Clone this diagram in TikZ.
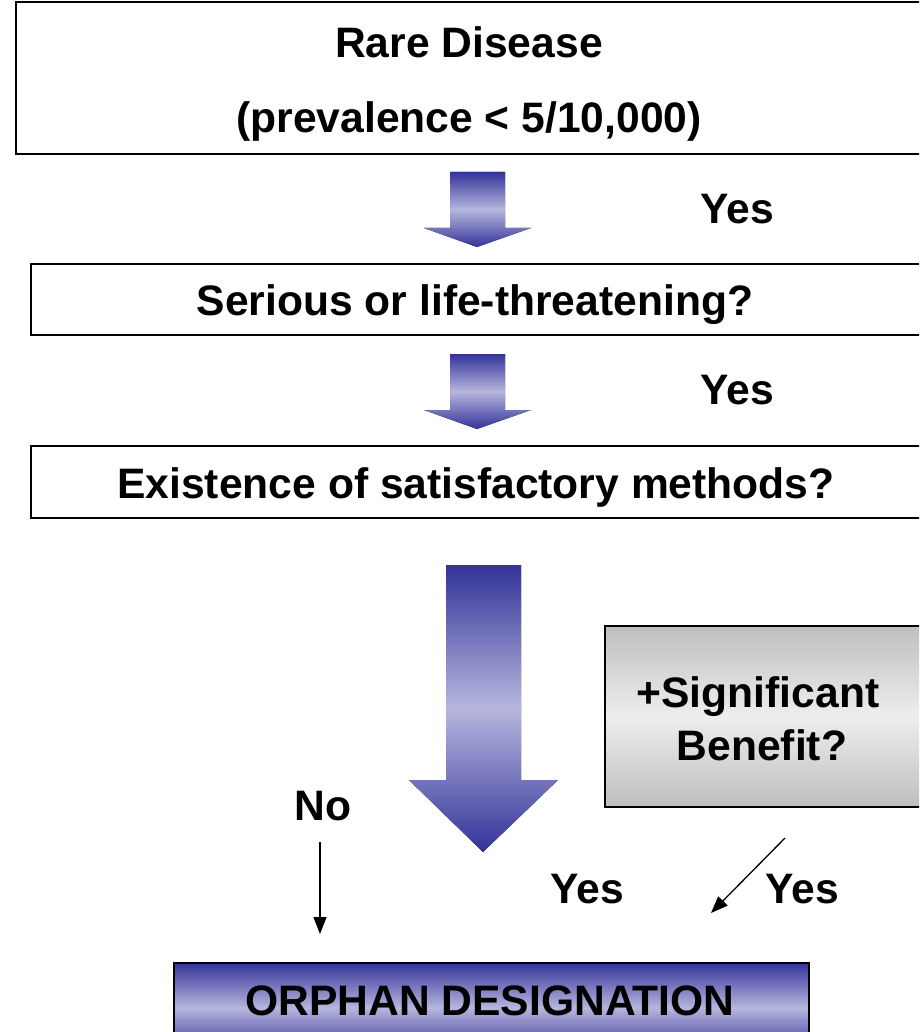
\documentclass[tikz,border=0pt]{standalone}
\usepackage{fontspec}
\setmainfont{Liberation Sans}
\usetikzlibrary{arrows.meta}
\definecolor{navy}{RGB}{51,51,153}
\definecolor{lav}{RGB}{182,182,222}
\definecolor{greyedge}{RGB}{190,190,190}
\definecolor{greymid}{RGB}{238,238,238}

\begin{document}
\begin{tikzpicture}[x=1pt,y=-1pt,
  lbl/.style={font=\fontsize{42.6}{50}\selectfont\bfseries, inner sep=0pt, anchor=base},
  qbox/.style={draw=black, line width=1.5pt, fill=white, anchor=north west, inner sep=0pt},
  greybox/.style={draw=black, line width=1.5pt, top color=greyedge, bottom color=greyedge, middle color=greymid, anchor=north west, inner sep=0pt},
  resultbox/.style={draw=black, line width=1.5pt, top color=navy, bottom color=navy, middle color=lav, anchor=north west, inner sep=0pt},
  blockarrow/.style={top color=navy, bottom color=navy, middle color=lav},
  thinarrow/.style={line width=1.3pt, -{Triangle[length=17pt,width=13pt]}}]

\useasboundingbox (0,0) rectangle (919,1032);
\clip (0,0) rectangle (919,1032);

% question boxes
\node[qbox, minimum width=920pt, minimum height=152pt] (rare) at (15,1.5) {};
\node[lbl] (rareA) at (469,58) {Rare Disease};
\node[lbl] (rareB) at (469,133) {(prevalence < 5/10,000)};

\node[qbox, minimum width=900pt, minimum height=71pt] (serious) at (30,263) {};
\node[lbl] at (475,315) {Serious or life-threatening?};

\node[qbox, minimum width=900pt, minimum height=72pt] (methods) at (30,445) {};
\node[lbl] at (476,498) {Existence of satisfactory methods?};

% significant benefit box
\node[greybox, minimum width=330pt, minimum height=181pt] (benefit) at (604,625) {};
\node[lbl] at (758,707) {+Significant};
\node[lbl] at (762,760) {Benefit?};

% outcome box
\node[resultbox, minimum width=635pt, minimum height=90pt] (orphan) at (173,962) {};
\node[lbl] at (490,1015) {ORPHAN DESIGNATION};

% block arrows between question boxes
\fill[blockarrow] (450,172) -- (505,172) -- (505,228) -- (531,228) -- (477,247)
  -- (424,228) -- (450,228) -- cycle;
\fill[blockarrow] (450,354) -- (505,354) -- (505,410) -- (531,410) -- (477,429)
  -- (424,410) -- (450,410) -- cycle;
\fill[blockarrow] (446,565) -- (521,565) -- (521,780) -- (558,780) -- (483,852)
  -- (409,780) -- (446,780) -- cycle;

% answer labels
\node[lbl] at (737,224) {Yes};
\node[lbl] at (737,404) {Yes};
\node[lbl] (no) at (323,820) {No};
\node[lbl] at (587,903) {Yes};
\node[lbl] at (802,903) {Yes};

% thin arrows
\coordinate (noS) at (320,842);
\coordinate (noE) at (320,934);
\draw[thinarrow] (noS) -- (noE);
\coordinate (bS) at (785,838);
\coordinate (bE) at (711,913);
\draw[thinarrow] (bS) -- (bE);
\end{tikzpicture}
\end{document}
